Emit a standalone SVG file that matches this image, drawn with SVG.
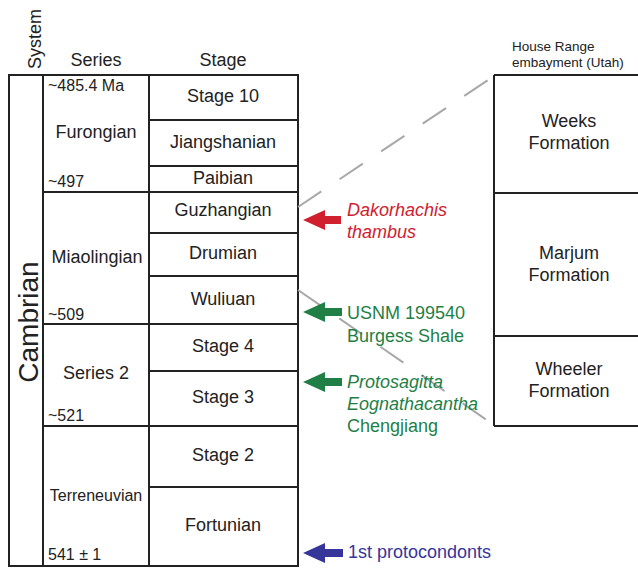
<svg xmlns="http://www.w3.org/2000/svg" width="638" height="568" viewBox="0 0 638 568">
<style>
text{font-family:"Liberation Sans",Arial,sans-serif;fill:#222}
.b{fill:none;stroke:#222;stroke-width:2}
.s{font-size:18px;text-anchor:middle}
.a{font-size:16px}
.d{stroke:#a8a8a8;stroke-width:2;stroke-dasharray:28 22;fill:none}
.r{fill:#d0202e}
.g{fill:#1f7f45}
.bl{fill:#36359a}
.lab{font-size:18px}
</style>
<rect width="638" height="568" fill="#fff"/>
<g id="headers">
<text class="s" x="96" y="66">Series</text>
<text class="s" x="223" y="66">Stage</text>
<text class="s" transform="translate(41,39) rotate(-90)" x="0" y="0">System</text>
</g>
<g id="system">
<rect class="b" x="9" y="75" width="289" height="491"/>
<line class="b" x1="43" y1="75" x2="43" y2="566"/>
<text transform="translate(38,322) rotate(-90)" style="font-size:28px;text-anchor:middle">Cambrian</text>
</g>
<g id="series">
<line class="b" x1="149" y1="75" x2="149" y2="566"/>
<line class="b" x1="43" y1="192" x2="149" y2="192"/>
<line class="b" x1="43" y1="324" x2="149" y2="324"/>
<line class="b" x1="43" y1="426" x2="149" y2="426"/>
<text class="s" x="96" y="138">Furongian</text>
<text class="s" x="97" y="263">Miaolingian</text>
<text class="s" x="96" y="379">Series 2</text>
<text class="s" x="96" y="501" style="font-size:16px">Terreneuvian</text>
<text class="a" x="48" y="91">~485.4 Ma</text>
<text class="a" x="48" y="187">~497</text>
<text class="a" x="48" y="320">~509</text>
<text class="a" x="48" y="421">~521</text>
<text class="a" x="48" y="560">541 ± 1</text>
</g>
<g id="stages">
<line class="b" x1="149" y1="120" x2="298" y2="120"/>
<line class="b" x1="149" y1="166" x2="298" y2="166"/>
<line class="b" x1="149" y1="192" x2="298" y2="192"/>
<line class="b" x1="149" y1="233" x2="298" y2="233"/>
<line class="b" x1="149" y1="276" x2="298" y2="276"/>
<line class="b" x1="149" y1="324" x2="298" y2="324"/>
<line class="b" x1="149" y1="371" x2="298" y2="371"/>
<line class="b" x1="149" y1="426" x2="298" y2="426"/>
<line class="b" x1="149" y1="487" x2="298" y2="487"/>
<text class="s" x="223" y="102">Stage 10</text>
<text class="s" x="223" y="148">Jiangshanian</text>
<text class="s" x="223" y="184">Paibian</text>
<text class="s" x="223" y="216">Guzhangian</text>
<text class="s" x="223" y="259">Drumian</text>
<text class="s" x="223" y="305">Wuliuan</text>
<text class="s" x="223" y="352">Stage 4</text>
<text class="s" x="223" y="403">Stage 3</text>
<text class="s" x="223" y="461">Stage 2</text>
<text class="s" x="223" y="531">Fortunian</text>
</g>
<g id="formations">
<text x="512" y="51" style="font-size:13.5px">House Range</text>
<text x="512" y="67" style="font-size:13.5px">embayment (Utah)</text>
<line class="b" x1="494" y1="75" x2="494" y2="426"/>
<line class="b" x1="494" y1="75" x2="640" y2="75"/>
<line class="b" x1="494" y1="193" x2="640" y2="193"/>
<line class="b" x1="494" y1="336" x2="640" y2="336"/>
<line class="b" x1="494" y1="426" x2="640" y2="426"/>
<text class="s" x="569" y="127">Weeks</text>
<text class="s" x="569" y="149">Formation</text>
<text class="s" x="569" y="259">Marjum</text>
<text class="s" x="569" y="281">Formation</text>
<text class="s" x="569" y="375">Wheeler</text>
<text class="s" x="569" y="397">Formation</text>
</g>
<g id="connectors">
<line class="d" x1="298" y1="207" x2="494" y2="76"/>
<line class="d" x1="298" y1="290" x2="494" y2="425"/>
</g>
<g id="markers">
<polygon class="r" points="303,220 325,210 325,216 341,216 341,224 325,224 325,230"/>
<polygon class="g" points="303,312 325,302 325,308 342,308 342,316 325,316 325,322"/>
<polygon class="g" points="303,382 325,372 325,378 342,378 342,386 325,386 325,392"/>
<polygon class="bl" points="303,553 325,543 325,549 343,549 343,557 325,557 325,563"/>
<text class="lab" x="347" y="216" style="fill:#d0202e;font-style:italic">Dakorhachis</text>
<text class="lab" x="347" y="238" style="fill:#d0202e;font-style:italic">thambus</text>
<text class="lab" x="347" y="319" style="fill:#1f7f45">USNM 199540</text>
<text class="lab" x="347" y="342" style="fill:#1f7f45">Burgess Shale</text>
<text class="lab" x="347" y="388" style="fill:#1f7f45;font-style:italic">Protosagitta</text>
<text class="lab" x="347" y="410" style="fill:#1f7f45;font-style:italic">Eognathacantha</text>
<text class="lab" x="347" y="432" style="fill:#1f7f45">Chengjiang</text>
<text class="lab" x="348" y="558" style="fill:#36359a">1st protocondonts</text>
</g>
</svg>
